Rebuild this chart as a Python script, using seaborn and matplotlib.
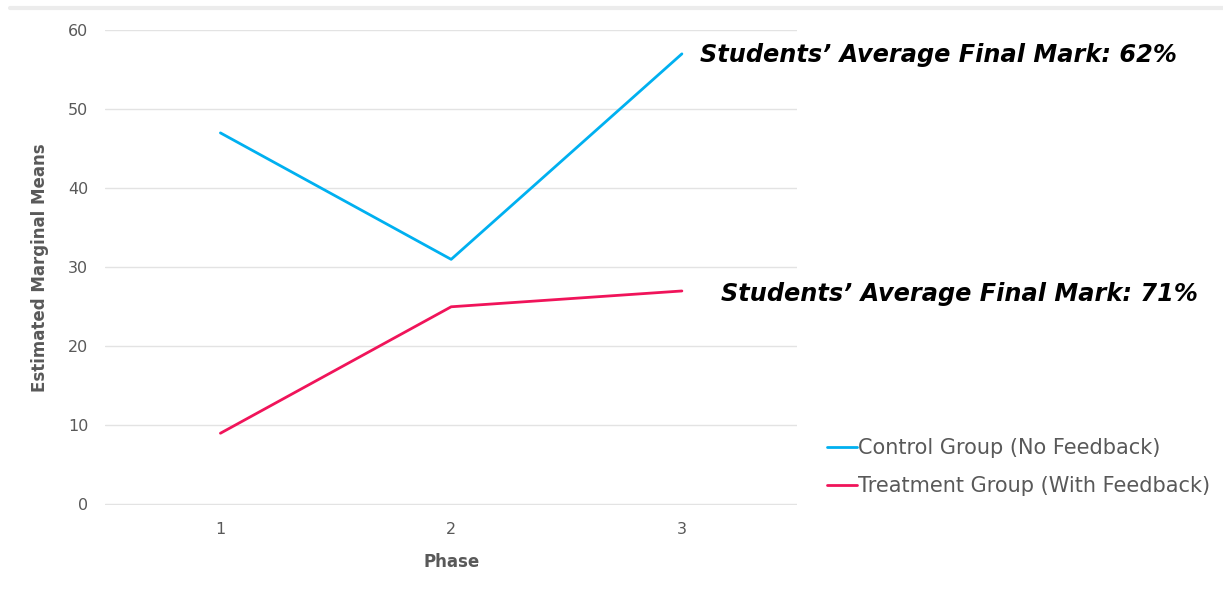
import pandas as pd
import matplotlib.pyplot as plt
import seaborn as sns
from matplotlib.lines import Line2D

# valores
phases = [1, 2, 3]
control_means = [47, 31, 57]
treatment_means = [9, 25, 27]
group_names = ["Control Group (No Feedback)", "Treatment Group (With Feedback)"]
final_marks = ["Students\u2019 Average Final Mark: 62%", "Students\u2019 Average Final Mark: 71%"]

df = pd.DataFrame({
    "Phase": phases * 2,
    "Mean": control_means + treatment_means,
    "Group": [group_names[0]] * 3 + [group_names[1]] * 3,
})

sns.set_theme(style="white")
plt.rcParams['font.family'] = ['DejaVu Sans']

grey = "#595959"
fig = plt.figure(figsize=(12.23, 5.91), dpi=100)
ax = fig.add_axes([0.0859, 0.1455, 0.566, 0.8035])

sns.lineplot(data=df, x="Phase", y="Mean", hue="Group",
             palette=["#00B0F0", "#F0145A"], linewidth=2, ax=ax, legend=False)

ax.set_xlim(0.5, 3.5)
ax.set_ylim(-0.08, 60)
ax.set_xticks(phases)
ax.set_yticks(range(0, 61, 10))
ax.grid(axis="y", color="#e3e3e3", linewidth=1)
ax.set_axisbelow(True)
for s in ax.spines.values():
    s.set_visible(False)
ax.tick_params(axis="both", colors=grey, labelsize=11.5, length=0, pad=12)
ax.set_xlabel("Phase", fontsize=12, fontweight="bold", color=grey, labelpad=12)
ax.set_ylabel("Estimated Marginal Means", fontsize=12, fontweight="bold", color=grey, labelpad=14)

# anotações das notas finais
ax.text(3.08, control_means[2] - 0.1, final_marks[0], ha="left", va="center",
        fontsize=17.3, fontweight="bold", style="italic", color="black", clip_on=False)
ax.text(3.17, treatment_means[2] - 0.4, final_marks[1], ha="left", va="center",
        fontsize=17.3, fontweight="bold", style="italic", color="black", clip_on=False)

handles = [Line2D([], [], color="#00B0F0", linewidth=2),
           Line2D([], [], color="#F0145A", linewidth=2)]
fig.legend(handles, group_names, loc="upper left", bbox_to_anchor=(0.6605, 0.29),
           frameon=False, fontsize=15, handlelength=1.45, handletextpad=0.08,
           labelspacing=0.87, labelcolor=grey)

# linha cinza no topo
fig.add_artist(Line2D([0.008, 1.0], [0.986, 0.986], color="#ececec", linewidth=3))

fig.savefig("out.png", dpi=100)
